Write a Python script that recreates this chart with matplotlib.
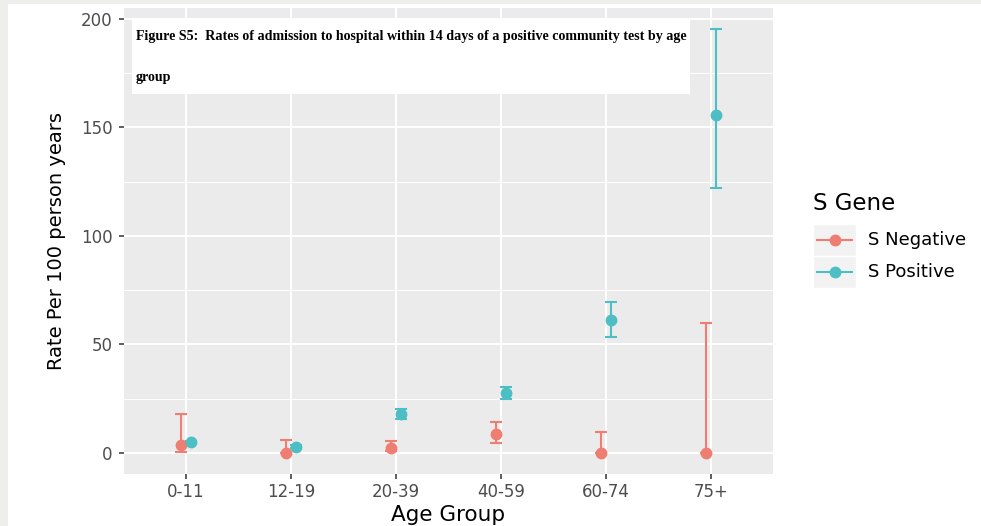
import matplotlib
matplotlib.use("Agg")
import matplotlib.pyplot as plt
from matplotlib.lines import Line2D
from matplotlib.patches import Rectangle

# ---------------- data ----------------
age_groups = ["0-11", "12-19", "20-39", "40-59", "60-74", "75+"]
series_names = ["S Negative", "S Positive"]
neg_rate = [3.8, 0.0, 2.5, 8.6, 0.0, 0.0]
neg_low = [0.3, 0.0, 1.0, 4.5, 0.0, 0.0]
neg_high = [17.8, 6.0, 5.7, 14.4, 9.5, 59.8]
pos_rate = [4.9, 2.9, 17.8, 27.8, 61.3, 155.8]
pos_low = [4.3, 2.4, 15.5, 24.7, 53.3, 122.3]
pos_high = [5.6, 3.5, 20.3, 30.6, 69.7, 195.2]
y_ticks = [0, 50, 100, 150, 200]
title_line1 = "Figure S5:  Rates of admission to hospital within 14 days of a positive community test by age"
title_line2 = "group"
colors = ["#EE7E72", "#4CBEC4"]

W, H = 981, 526
fig = plt.figure(figsize=(W / 100, H / 100), dpi=100)
fig.patch.set_facecolor("white")

def fx(px):
    return px / W

def fy(py):
    return (H - py) / H

# page gray strips
fig.add_artist(Rectangle((0, fy(4)), 1, 4 / H, transform=fig.transFigure,
                         facecolor="#EEEEEC", edgecolor="none", zorder=0))
fig.add_artist(Rectangle((0, 0), 8 / W, 1, transform=fig.transFigure,
                         facecolor="#EEEEEC", edgecolor="none", zorder=0))

ax = fig.add_axes([fx(124), fy(474), (773 - 124) / W, (474 - 8) / H])
ax.set_facecolor("#EBEBEB")
for s in ax.spines.values():
    s.set_visible(False)

x = list(range(len(age_groups)))
dodge = 0.05
series = [(neg_rate, neg_low, neg_high), (pos_rate, pos_low, pos_high)]
for i, (rate, lo, hi) in enumerate(series):
    xs = [v + (-dodge if i == 0 else dodge) for v in x]
    yerr = [[r - l for r, l in zip(rate, lo)], [h - r for r, h in zip(rate, hi)]]
    ax.errorbar(xs, rate, yerr=yerr, fmt="o", color=colors[i], ecolor=colors[i],
                elinewidth=1.5, capsize=4, capthick=1.5, markersize=7.5,
                zorder=3, label=series_names[i])

ax.set_xlim(-0.59, 5.59)
ax.set_ylim(-9.68, 205.07)
ax.set_xticks(x)
ax.set_xticklabels(age_groups)
ax.set_yticks(y_ticks)
ax.set_yticks([25, 75, 125, 175], minor=True)
ax.grid(which="major", color="white", linewidth=1.4, zorder=0)
ax.grid(which="minor", axis="y", color="white", linewidth=0.7, zorder=0)
ax.set_axisbelow(True)
ax.tick_params(which="major", length=3.6, width=1.1, color="#333333",
               labelcolor="#4D4D4D", labelsize=12, pad=3)
ax.tick_params(axis="y", which="major", pad=4.5)
ax.tick_params(which="minor", length=0)
for lab in ax.get_xticklabels() + ax.get_yticklabels():
    lab.set_family("DejaVu Sans")

ax.set_xlabel("Age Group", fontsize=15.5, family="DejaVu Sans", labelpad=3)
ax.set_ylabel("Rate Per 100 person years", fontsize=14, family="DejaVu Sans", labelpad=11)

# title box overlay
fig.add_artist(Rectangle((fx(132), fy(94)), (690 - 132) / W, (94 - 19) / H,
                         transform=fig.transFigure, facecolor="white",
                         edgecolor="none", zorder=5))
fig.text(fx(136), fy(40), title_line1, family="Liberation Serif", weight="bold",
         fontsize=10.1, va="baseline", ha="left", zorder=6)
fig.text(fx(136), fy(81), title_line2, family="Liberation Serif", weight="bold",
         fontsize=10.1, va="baseline", ha="left", zorder=6)

# legend (manual, ggplot style)
fig.text(fx(813), fy(204), "S Gene", fontsize=16.5, family="DejaVu Sans",
         va="center", ha="left")
key_y = [240, 272]
for i, name in enumerate(series_names):
    fig.add_artist(Rectangle((fx(813), fy(key_y[i] + 16)), 43 / W, 32 / H,
                             transform=fig.transFigure, facecolor="#F2F2F2",
                             edgecolor="white", linewidth=1.0, zorder=1))
    fig.add_artist(Line2D([fx(817), fx(852)], [fy(key_y[i])] * 2,
                          transform=fig.transFigure, color=colors[i],
                          linewidth=1.5, zorder=2))
    fig.add_artist(Line2D([fx(834.5)], [fy(key_y[i])], transform=fig.transFigure,
                          color=colors[i], marker="o", markersize=7.5,
                          linestyle="none", zorder=3))
    fig.text(fx(868), fy(key_y[i]), name, fontsize=13, family="DejaVu Sans",
             va="center", ha="left")

fig.savefig("out.png", dpi=100)
